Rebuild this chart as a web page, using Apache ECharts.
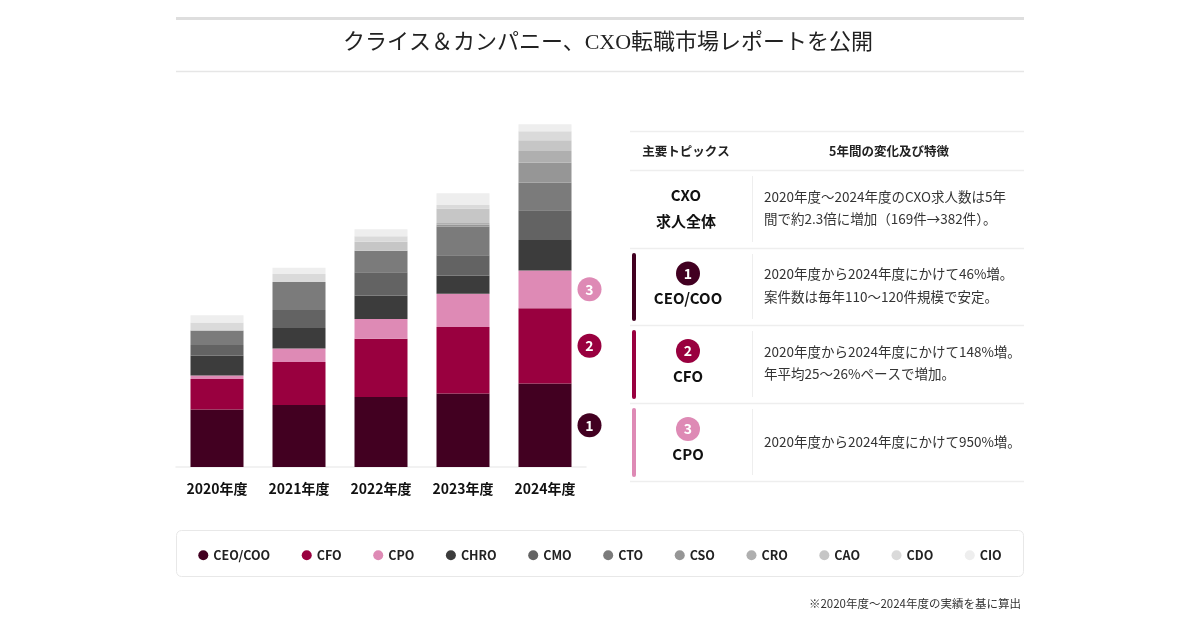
<!DOCTYPE html>
<html><head><meta charset="utf-8">
<script src="https://cdn.jsdelivr.net/npm/echarts@6/dist/echarts.min.js"></script>
<style>html,body{margin:0;padding:0;background:#fff}#c{width:1200px;height:630px}</style>
</head><body><div id="c"></div>
<script>
// ---- data ----
const years = ['2020年度','2021年度','2022年度','2023年度','2024年度'];
const roles = ['CEO/COO','CFO','CPO','CHRO','CMO','CTO','CSO','CRO','CAO','CDO','CIO'];
const ceoCoo = [64, 69, 78, 82, 93];
const cfo    = [34, 48, 65, 74, 84];
const cpo    = [4, 15, 22, 37, 42];
const chro   = [22, 23, 26, 20, 34];
const cmo    = [12, 20, 26, 23, 33];
const cto    = [16, 31, 24, 32, 31];
const cso    = [0, 0, 0, 2, 22];
const cro    = [0, 0, 0, 2, 13];
const cao    = [0, 0, 10, 16, 12];
const cdo    = [9, 9, 6, 4, 10];
const cio    = [8, 7, 8, 13, 8];
const roleValues = [ceoCoo, cfo, cpo, chro, cmo, cto, cso, cro, cao, cdo, cio];
const roleColors = ['#420021','#99003f','#de8ab5','#3c3c3c','#636363','#7b7b7b','#969696','#afafaf','#c6c6c6','#dadada','#eeeeee'];
const markerNums = {'CEO/COO':'1','CFO':'2','CPO':'3'};

const titleText = 'クライス＆カンパニー、CXO転職市場レポートを公開';
const tableHead = ['主要トピックス','5年間の変化及び特徴'];
const tableRows = [
  {num:null, label:['CXO','求人全体'], desc:['2020年度～2024年度のCXO求人数は5年','間で約2.3倍に増加（169件→382件）。']},
  {num:'1', color:'#420021', label:['CEO/COO'], desc:['2020年度から2024年度にかけて46%増。','案件数は毎年110～120件規模で安定。']},
  {num:'2', color:'#99003f', label:['CFO'], desc:['2020年度から2024年度にかけて148%増。','年平均25～26%ペースで増加。']},
  {num:'3', color:'#de8ab5', label:['CPO'], desc:['2020年度から2024年度にかけて950%増。']}
];
const footnote = '※2020年度～2024年度の実績を基に算出';

// ---- chart ----
const FONT = '"Noto Sans CJK JP","Noto Sans",sans-serif';
const chart = echarts.init(document.getElementById('c'), null, {renderer:'canvas'});

const series = roles.map((r, i) => ({
  name: r,
  type: 'bar',
  stack: 'total',
  barWidth: 53,
  itemStyle: {color: roleColors[i]},
  emphasis: {disabled: true},
  data: roleValues[i].map((v, j) => {
    if (markerNums[r] && j === years.length - 1) {
      return {
        value: v,
        label: {
          show: true, position: 'right', distance: 6,
          formatter: '{c|' + markerNums[r] + '}',
          rich: {c: {width: 24, height: 24, lineHeight: 24, borderRadius: 12,
            backgroundColor: roleColors[i], color: '#fff', align: 'center',
            fontSize: 14, fontWeight: 'bold', fontFamily: FONT}}
        }
      };
    }
    return v;
  })
}));

const g = [];
function line(x1, y1, x2, y2, stroke, w) {
  g.push({type:'line', silent:true, shape:{x1, y1, x2, y2}, style:{stroke, lineWidth:w}});
}
function text(t, x, y, size, weight, fill, align) {
  g.push({type:'text', silent:true, style:{text:t, x, y, fontSize:size, fontWeight:weight,
    fontFamily:FONT, fill, textAlign:align || 'center', textVerticalAlign:'middle'}});
}
// title block
line(176, 18.5, 1024, 18.5, '#dedede', 3);
g.push({type:'text', silent:true, style:{text:titleText, x:608, y:43, fontSize:22, fontWeight:'normal',
  fontFamily:'"Liberation Serif","Noto Sans CJK JP",serif', fill:'#222', textAlign:'center', textVerticalAlign:'middle'}});
line(176, 71.5, 1024, 71.5, '#e6e6e6', 1.5);

// table
const tx0 = 630, tx1 = 1024;
const hLines = [131, 170, 248, 325, 403, 481];
hLines.forEach(y => line(tx0, y + 0.5, tx1, y + 0.5, '#eeeeee', 1.5));
text(tableHead[0], 686, 151, 12.5, 'bold', '#222');
text(tableHead[1], 889, 151, 12.5, 'bold', '#222');
tableRows.forEach((row, k) => {
  const top = hLines[k + 1], bot = hLines[k + 2];
  const mid = (top + bot) / 2;
  line(752.5, top + 6, 752.5, bot - 6, '#eeeeee', 1);
  if (row.num) {
    g.push({type:'rect', silent:true, shape:{x:632, y:top + 5, width:4, height:bot - top - 9, r:2}, style:{fill:row.color}});
    g.push({type:'circle', silent:true, shape:{cx:688, cy:mid - 13, r:12}, style:{fill:row.color}});
    text(row.num, 688, mid - 13, 14, 'bold', '#fff');
    text(row.label[0], 688, mid + 12, 15, 'bold', '#111');
  } else {
    text(row.label[0], 686, mid - 14, 15, 'bold', '#111');
    text(row.label[1], 686, mid + 12, 15, 'bold', '#111');
  }
  if (row.desc.length === 2) {
    text(row.desc[0], 764, mid - 12.5, 13.5, 'normal', '#333', 'left');
    text(row.desc[1], 764, mid + 10, 13.5, 'normal', '#333', 'left');
  } else {
    text(row.desc[0], 764, mid, 13.5, 'normal', '#333', 'left');
  }
});
// legend box
g.push({type:'rect', silent:true, shape:{x:176.5, y:530.5, width:847, height:46, r:5}, style:{fill:'none', stroke:'#e8e8e8', lineWidth:1}});
// footnote
text(footnote, 1021, 604, 11.5, 'normal', '#333', 'right');

chart.setOption({
  animation: false,
  backgroundColor: '#fff',
  grid: {left: 176, width: 410, top: 108, bottom: 163, containLabel: false},
  xAxis: {
    type: 'category', data: years,
    axisLine: {lineStyle: {color: '#eeeeee', width: 1.5}},
    axisTick: {show: false},
    axisLabel: {margin: 15, fontSize: 14, fontWeight: 'bold', color: '#111', fontFamily: FONT}
  },
  yAxis: {type: 'value', min: 0, max: 400, show: false, splitLine: {show: false}},
  legend: {
    data: roles, left: 'center', top: 544, icon: 'circle',
    itemWidth: 10, itemHeight: 10, itemGap: 31.5,
    textStyle: {fontSize: 12.5, fontWeight: 'bold', color: '#222', fontFamily: FONT},
    selectedMode: false
  },
  series: series,
  graphic: g
});
</script>
</body></html>
